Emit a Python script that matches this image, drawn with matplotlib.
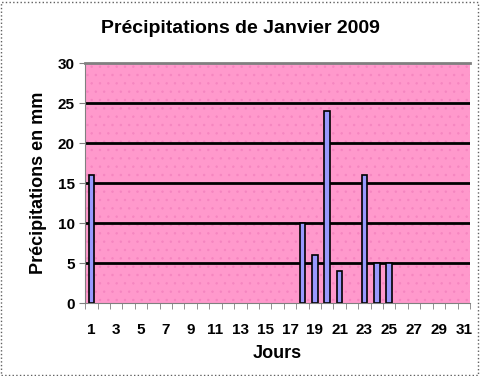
import matplotlib
matplotlib.use("Agg")
import matplotlib.pyplot as plt
from matplotlib.patches import Rectangle

plt.rcParams['font.family'] = ['Liberation Sans', 'DejaVu Sans']
plt.rcParams['hatch.linewidth'] = 0.5

jours = list(range(1, 32))
pluie = {1: 16, 18: 10, 19: 6, 20: 24, 21: 4, 23: 16, 24: 5, 25: 5}
valeurs = [pluie.get(j, 0) for j in jours]
yticks = [0, 5, 10, 15, 20, 25, 30]
xlabels = [str(j) for j in jours if j % 2 == 1]

fig = plt.figure(figsize=(4.81, 3.76), dpi=100)
ax = fig.add_axes([0.177, 0.194, 0.8, 0.638])

# fond rose pointillé façon Excel
ax.set_facecolor('#FF99CC')
ax.add_patch(Rectangle((0, 0), 1, 1, transform=ax.transAxes, facecolor='none',
                       edgecolor='#F585C0', hatch='..', linewidth=0, zorder=0))

for y in yticks[1:-1]:
    ax.axhline(y, color='black', linewidth=2, zorder=1)

# jours sans pluie : pas de barre visible
x_pluie = [j for j, v in zip(jours, valeurs) if v > 0]
v_pluie = [v for v in valeurs if v > 0]
ax.bar(x_pluie, v_pluie, width=0.45, color='#9999FF', edgecolor='black',
       linewidth=1.2, zorder=2)

ax.set_xlim(0.5, 31.5)
ax.set_ylim(0, 30)
ax.set_yticks(yticks)
ax.set_yticklabels([str(v) for v in yticks], fontsize=11, fontweight='bold')
ax.set_xticks([j for j in jours if j % 2 == 1])
ax.set_xticklabels(xlabels, fontsize=11, fontweight='bold')
ax.set_xticks([j + 0.5 for j in range(0, 32)], minor=True)
ax.tick_params(axis='x', which='major', length=0, pad=14)
ax.tick_params(axis='x', which='minor', length=4, color='#808080')
ax.tick_params(axis='y', length=4, color='#808080')

ax.spines['right'].set_visible(False)
ax.spines['top'].set_color('#808080')
ax.spines['top'].set_linewidth(2)
ax.spines['left'].set_color('#808080')
ax.spines['bottom'].set_color('#808080')

ax.set_xlabel('Jours', fontsize=13, fontweight='bold', labelpad=6)
ax.set_ylabel('Précipitations en mm', fontsize=13, fontweight='bold', labelpad=8)
fig.text(0.5, 0.925, 'Précipitations de Janvier 2009', ha='center', va='center',
         fontsize=14, fontweight='bold')

fig.patches.append(Rectangle((0.002, 0.003), 0.992, 0.992, transform=fig.transFigure,
                             fill=False, edgecolor='#606060', linestyle=':', linewidth=1))

fig.savefig('out.png', dpi=100)
